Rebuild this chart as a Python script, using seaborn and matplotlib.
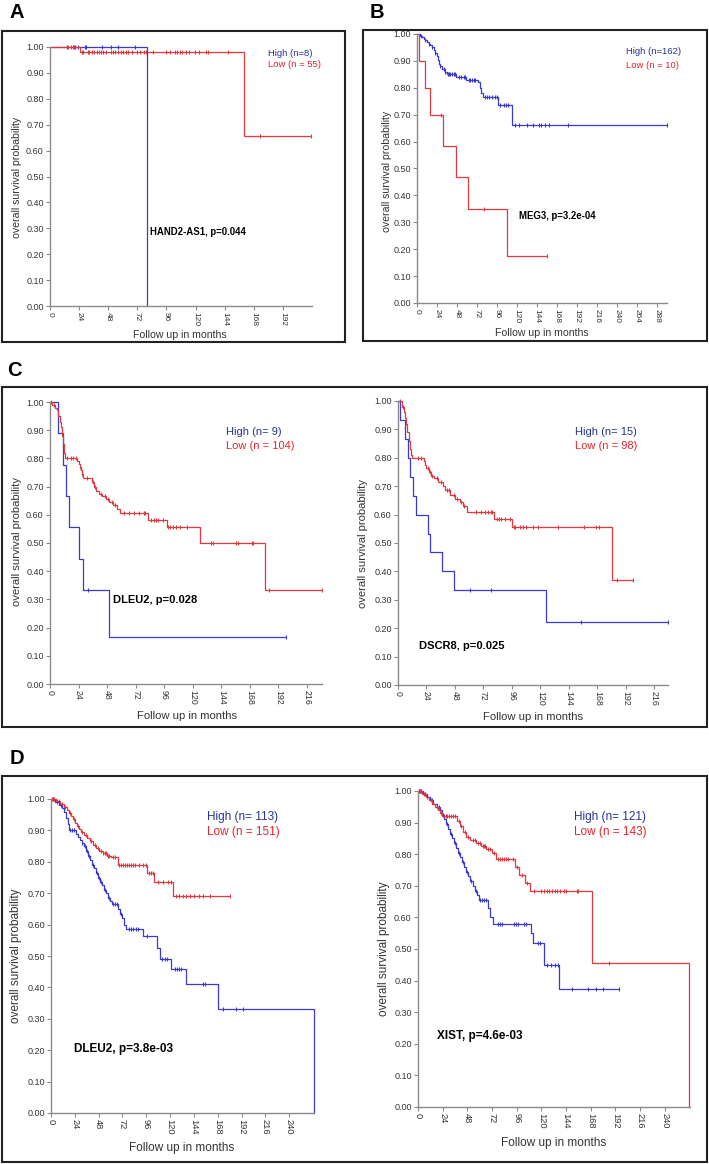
import numpy as np
import pandas as pd
import matplotlib
matplotlib.use("Agg")
import matplotlib.pyplot as plt
import seaborn as sns
from matplotlib.patches import Rectangle

sns.set_style("ticks")
plt.rcParams['font.family'] = ['Liberation Sans', 'DejaVu Sans']

# ---------------- data (months, survival probability) ----------------
Y_TICKS = [0.0, 0.1, 0.2, 0.3, 0.4, 0.5, 0.6, 0.7, 0.8, 0.9, 1.0]

# Panel A : HAND2-AS1
A_HIGH_T = [80]
A_HIGH_S = [0.0]
A_HIGH_C = [21, 23, 29, 30, 43, 50, 56, 70]
A_LOW_T = [25, 160]
A_LOW_S = [0.98, 0.655]
A_LOW_C = [14, 15, 17, 19, 20, 21, 26, 27.5, 31, 32.4, 34.3, 36.5, 38.5, 40, 42, 44, 46, 50,
           51.6, 53.6, 56.3, 58.2, 60.4, 62.6, 64.6, 67.3, 71.4, 74.2, 77.5, 78.8, 85, 96,
           99, 103, 105, 107, 109, 112, 115, 119.5, 123, 129, 130.5, 146.4, 173, 215]

# Panel B : MEG3
B_HIGH_T = [4, 6, 8, 10, 12, 14, 16, 18, 20, 22, 24, 25, 26, 28, 30, 33, 36, 47, 59, 73, 75,
            77, 79, 97, 114]
B_HIGH_S = [0.994, 0.988, 0.982, 0.976, 0.97, 0.964, 0.958, 0.952, 0.94, 0.93, 0.92, 0.905,
            0.89, 0.88, 0.87, 0.86, 0.85, 0.84, 0.83, 0.82, 0.80, 0.78, 0.765, 0.735, 0.66]
B_HIGH_C = [5.2, 10, 14, 18, 22, 28, 32, 34, 37.2, 38.8, 40, 42, 44, 46, 50, 53.2, 56, 58, 62,
            64, 66, 68, 70, 81.2, 84, 86.8, 90, 93.2, 96, 100, 104, 107.2, 109.2, 118, 122,
            132, 138.8, 146, 149.2, 154, 158.8, 181.2, 299.6]
B_LOW_T = [2, 10, 15, 31, 47, 61, 108]
B_LOW_S = [0.90, 0.80, 0.70, 0.583, 0.467, 0.35, 0.175]
B_LOW_C = [29, 80, 156]

# Panel C left : DLEU2
CL_HIGH_T = [6.7, 10.9, 13.7, 16, 24, 27.7, 49.6]
CL_HIGH_S = [0.889, 0.778, 0.667, 0.556, 0.444, 0.333, 0.167]
CL_HIGH_C = [32, 198.6]
CL_LOW_T = [2, 4, 6, 7, 8, 9, 10, 11, 12, 13, 23, 24, 25, 26, 27, 28, 35, 37, 39, 41, 44, 47,
            50, 53, 56, 59, 82, 98, 126, 181]
CL_LOW_S = [0.99, 0.98, 0.97, 0.95, 0.93, 0.91, 0.88, 0.85, 0.82, 0.80, 0.79, 0.78, 0.77,
            0.76, 0.745, 0.73, 0.715, 0.70, 0.685, 0.675, 0.665, 0.655, 0.645, 0.635, 0.62,
            0.605, 0.58, 0.555, 0.50, 0.333]
CL_LOW_C = [1, 3, 14, 18, 19, 22, 25, 27, 31, 36, 38, 43, 46, 49, 52, 55, 62, 66, 71, 75, 79,
            80, 85, 87, 89, 91, 95, 99, 101, 103, 106, 109, 115, 135, 137, 156, 158, 170, 171,
            184, 228.6]

# Panel C right : DSCR8
CR_HIGH_T = [1.7, 5.9, 8.1, 10.1, 12.9, 15.1, 24.9, 26.9, 36.7, 47.3, 125]
CR_HIGH_S = [0.933, 0.867, 0.80, 0.733, 0.667, 0.60, 0.533, 0.467, 0.40, 0.333, 0.222]
CR_HIGH_C = [60.5, 78.7, 154.3, 227.5]
CR_LOW_T = [3, 5, 6, 7, 8, 9, 10, 11, 12, 22, 23, 24, 26, 28, 30, 34, 38, 40, 44, 48, 52, 55,
            58, 81, 96, 180]
CR_LOW_S = [0.98, 0.96, 0.94, 0.92, 0.89, 0.86, 0.83, 0.81, 0.80, 0.79, 0.775, 0.765, 0.75,
            0.735, 0.73, 0.715, 0.70, 0.685, 0.67, 0.655, 0.645, 0.63, 0.61, 0.585, 0.555, 0.37]
CR_LOW_C = [2, 4, 17, 19, 25, 27, 29, 33, 36, 41, 43, 47, 50, 53, 56, 66, 70, 73, 76, 78, 79,
            83, 85, 87, 90, 94, 98, 99, 103, 105, 108, 114, 118, 135, 157, 167, 169, 184.6, 197.8]

# Panel D left : DLEU2
DL_HIGH_T = [4, 8, 11, 13, 15, 17, 18, 25, 27, 29, 31, 33, 35, 37, 39, 41, 43, 45, 47, 49, 51,
             53, 55, 57, 59, 61, 68, 70, 72, 74, 76, 93, 107, 110, 121, 136, 168, 265]
DL_HIGH_S = [0.99, 0.98, 0.97, 0.96, 0.94, 0.92, 0.90, 0.89, 0.88, 0.87, 0.86, 0.85, 0.835,
             0.82, 0.805, 0.79, 0.78, 0.765, 0.75, 0.735, 0.725, 0.71, 0.70, 0.685, 0.675,
             0.665, 0.65, 0.635, 0.62, 0.60, 0.585, 0.565, 0.525, 0.49, 0.46, 0.41, 0.33, 0.0]
DL_HIGH_C = [2, 6, 10, 19, 21, 23, 31, 34, 36, 38, 42, 46, 48, 50, 54, 58, 62, 64, 66, 71, 79,
             81, 83, 86, 88, 97, 112, 115, 117, 125, 127, 129, 131, 153, 155, 173, 186, 193]
DL_LOW_T = [5, 9, 13, 16, 18, 20, 22, 24, 26, 28, 30, 33, 36, 39, 42, 45, 48, 52, 56, 60, 68,
            97, 104, 123]
DL_LOW_S = [0.995, 0.985, 0.975, 0.965, 0.955, 0.945, 0.935, 0.925, 0.915, 0.905, 0.895,
            0.885, 0.875, 0.865, 0.855, 0.845, 0.835, 0.828, 0.82, 0.815, 0.79, 0.765, 0.735,
            0.69]
DL_LOW_C = [1, 2, 3, 6, 8, 11, 14, 19, 23, 27, 31, 35, 40, 44, 47, 50, 52, 54, 55, 57, 58, 62,
            64, 69, 71, 73, 75, 77, 79, 81, 83, 85, 89, 93, 96, 99, 101, 103, 108, 113, 118,
            121, 126, 129, 133, 136, 140, 144, 149, 153, 160, 180]

# Panel D right : XIST
DR_HIGH_T = [5, 9, 12, 15, 18, 21, 23, 25, 27, 29, 31, 33, 35, 37, 39, 41, 43, 45, 47, 49, 51,
             53, 55, 57, 59, 68, 70, 73, 110, 112, 123, 137]
DR_HIGH_S = [0.99, 0.98, 0.97, 0.96, 0.95, 0.94, 0.925, 0.91, 0.895, 0.88, 0.865, 0.85, 0.835,
             0.82, 0.805, 0.79, 0.775, 0.76, 0.745, 0.73, 0.715, 0.70, 0.685, 0.67, 0.655,
             0.63, 0.60, 0.58, 0.55, 0.52, 0.45, 0.375]
DR_HIGH_C = [1, 2, 3, 7, 14, 20, 24, 28, 32, 36, 40, 44, 48, 52, 56, 60, 62, 64, 66, 78, 80, 82,
             93, 95, 97, 103, 105, 117, 119, 125, 129, 133, 136, 150, 165, 173, 180, 195]
DR_LOW_T = [4, 8, 11, 14, 17, 19, 21, 23, 38, 41, 44, 47, 51, 56, 61, 66, 72, 76, 94, 98, 104,
            109, 169, 264]
DR_LOW_S = [0.99, 0.98, 0.97, 0.96, 0.95, 0.94, 0.93, 0.92, 0.905, 0.89, 0.87, 0.855, 0.845,
            0.835, 0.825, 0.815, 0.805, 0.785, 0.76, 0.735, 0.71, 0.685, 0.455, 0.0]
DR_LOW_C = [1, 2, 3, 6, 9, 13, 18, 22, 25, 27, 28, 30, 32, 34, 36, 40, 42, 46, 49, 53, 55, 58,
            60, 63, 64, 65, 68, 70, 74, 78, 80, 82, 84, 86, 88, 92, 96, 101, 106, 113, 120, 123,
            125, 127, 130, 133, 135, 138, 142, 144, 155, 156, 186]

LEGENDS = {
    'A': ('High (n=8)', 'Low (n = 55)'),
    'B': ('High (n=162)', 'Low (n = 10)'),
    'CL': ('High (n= 9)', 'Low (n = 104)'),
    'CR': ('High (n= 15)', 'Low (n = 98)'),
    'DL': ('High (n= 113)', 'Low (n = 151)'),
    'DR': ('High (n= 121)', 'Low (n = 143)'),
}
NOTES = {
    'A': 'HAND2-AS1, p=0.044',
    'B': 'MEG3, p=3.2e-04',
    'CL': 'DLEU2, p=0.028',
    'CR': 'DSCR8, p=0.025',
    'DL': 'DLEU2, p=3.8e-03',
    'DR': 'XIST, p=4.6e-03',
}

# ---------------- drawing ----------------
W, H = 709, 1164
fig = plt.figure(figsize=(W / 100, H / 100), dpi=100)


def fx(x):
    return x / W


def fy(y):
    return 1 - y / H


BLUE = '#3a3ad2'
RED = '#dc3a40'
NAVY = '#25338f'
LRED = '#e3262b'
GRAY = '#8a8a8a'
TXT = '#333333'


def km_frame(ev_t, ev_s, cens):
    t = [0.0] + list(ev_t)
    s = [1.0] + list(ev_s)
    end = max([t[-1]] + list(cens))
    if s[-1] > 0 and end > t[-1]:
        t.append(end)
        s.append(s[-1])
    return pd.DataFrame({'time': t, 'surv': s})


def cens_frame(ev_t, ev_s, cens):
    et = np.array([0.0] + list(ev_t))
    es = np.array([1.0] + list(ev_s))
    c = np.array(cens, float)
    idx = np.searchsorted(et, c, side='right') - 1
    return pd.DataFrame({'time': c, 'surv': es[idx]})


def panel(key, rect, xmax, xtick_max, curves, leg_xy, note_xy, xl_xy, yl_xy, fs):
    l, r, t, b = rect
    ax = fig.add_axes([fx(l), fy(b), (r - l) / W, (b - t) / H])
    for ev_t, ev_s, cens, col in curves:
        df = km_frame(ev_t, ev_s, cens)
        sns.lineplot(data=df, x='time', y='surv', drawstyle='steps-post', estimator=None,
                     sort=False, color=col, lw=0.9, ax=ax, clip_on=False)
        cf = cens_frame(ev_t, ev_s, cens)
        sns.scatterplot(data=cf, x='time', y='surv', marker='|', s=11, color=col,
                        linewidth=0.8, ax=ax, clip_on=False)
    ax.set_xlim(0, xmax)
    ax.set_ylim(0, 1)
    ax.set_xlabel('')
    ax.set_ylabel('')
    for sp in ('top', 'right'):
        ax.spines[sp].set_visible(False)
    for sp in ('left', 'bottom'):
        ax.spines[sp].set_color(GRAY)
        ax.spines[sp].set_linewidth(1.0)
    xt = list(range(0, xtick_max + 1, 24))
    ax.set_xticks(xt)
    ax.set_xticklabels([str(v) for v in xt], rotation=270, fontsize=fs['xt'], color=TXT)
    ax.set_yticks(Y_TICKS)
    ax.set_yticklabels(['%.2f' % v for v in Y_TICKS], fontsize=6.5, color=TXT)
    ax.tick_params(axis='both', direction='out', length=3, width=0.8, color=GRAY, pad=1.5)
    hi, lo = LEGENDS[key]
    fig.text(fx(leg_xy[0]), fy(leg_xy[1]), hi, color=NAVY, fontsize=fs['leg'],
             ha='left', va='center')
    fig.text(fx(leg_xy[0]), fy(leg_xy[1] + leg_xy[2]), lo, color=LRED, fontsize=fs['leg'],
             ha='left', va='center')
    fig.text(fx(note_xy[0]), fy(note_xy[1]), NOTES[key], color='black', fontsize=fs['note'],
             fontweight='bold', ha='left', va='center')
    fig.text(fx(xl_xy[0]), fy(xl_xy[1]), 'Follow up in months', color=TXT,
             fontsize=fs['lab'], ha='center', va='center')
    fig.text(fx(yl_xy[0]), fy(yl_xy[1]), 'overall survival probability', color=TXT,
             fontsize=fs['lab'], rotation=90, ha='center', va='center')
    return ax


FS_AB = {'xt': 6.0, 'leg': 6.8, 'note': 6.9, 'lab': 7.6}
FS_C = {'xt': 6.3, 'leg': 8.0, 'note': 8.0, 'lab': 8.1}
FS_D = {'xt': 6.7, 'leg': 8.5, 'note': 8.5, 'lab': 8.5}

panel('A', (50, 312, 47, 306), 216, 192,
      [(A_HIGH_T, A_HIGH_S, A_HIGH_C, BLUE), (A_LOW_T, A_LOW_S, A_LOW_C, RED)],
      (268, 53, 11.5), (150, 232), (180, 335), (17.5, 177), FS_AB)
panel('B', (417, 667, 34, 303), 300, 288,
      [(B_HIGH_T, B_HIGH_S, B_HIGH_C, BLUE), (B_LOW_T, B_LOW_S, B_LOW_C, RED)],
      (626, 52, 13), (519, 216), (542, 333), (386.5, 171), FS_AB)
panel('CL', (50, 322, 402, 684), 228.6, 216,
      [(CL_HIGH_T, CL_HIGH_S, CL_HIGH_C, BLUE), (CL_LOW_T, CL_LOW_S, CL_LOW_C, RED)],
      (226, 432, 14), (113, 600), (187, 716), (17, 541), FS_C)
panel('CR', (398, 668, 401, 685), 227.5, 216,
      [(CR_HIGH_T, CR_HIGH_S, CR_HIGH_C, BLUE), (CR_LOW_T, CR_LOW_S, CR_LOW_C, RED)],
      (575, 432, 14), (419, 646), (533, 717), (362.5, 543), FS_C)
panel('DL', (51, 314, 799, 1113), 265, 240,
      [(DL_HIGH_T, DL_HIGH_S, DL_HIGH_C, BLUE), (DL_LOW_T, DL_LOW_S, DL_LOW_C, RED)],
      (207, 817, 15), (74, 1049), (182, 1148), (16, 956), FS_D)
panel('DR', (418, 690, 791, 1107), 264.5, 240,
      [(DR_HIGH_T, DR_HIGH_S, DR_HIGH_C, BLUE), (DR_LOW_T, DR_LOW_S, DR_LOW_C, RED)],
      (574, 817, 15), (437, 1036), (554, 1143), (383.5, 949), FS_D)

# framing boxes
for (x0, y0, x1, y1) in [(2, 31, 345, 342), (363, 30, 707, 341),
                         (2, 387, 707, 727), (2, 776, 707, 1162)]:
    fig.add_artist(Rectangle((fx(x0), fy(y1)), (x1 - x0) / W, (y1 - y0) / H,
                             transform=fig.transFigure, fill=False, lw=1.5,
                             edgecolor='#222222'))

# panel letters
for letter, (x, y) in {'A': (10, 12), 'B': (370, 12), 'C': (7, 370), 'D': (10, 758)}.items():
    fig.text(fx(x), fy(y), letter, fontsize=14.5, fontweight='bold', color='black',
             ha='left', va='center')

fig.savefig('out.png', dpi=100)
